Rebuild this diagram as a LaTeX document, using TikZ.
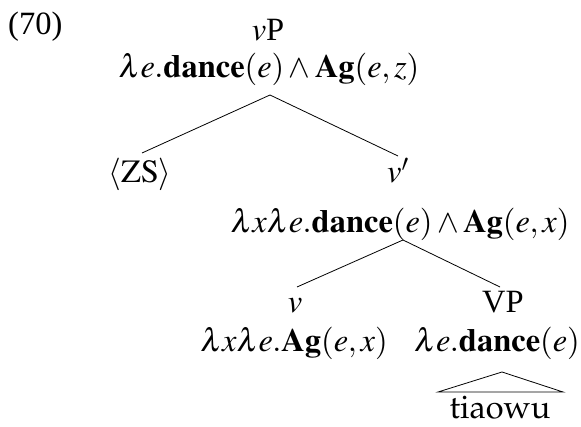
\documentclass[tikz,border=0pt]{standalone}
\usepackage{amsmath,amsbsy}
\usepackage{mathptmx}
\usepackage[T1]{fontenc}
\usepackage[no-math]{fontspec}
\setmainfont{Liberation Serif}
\newcommand{\bl}{\boldsymbol{\lambda}}
\tikzset{
  lab/.style={anchor=base, inner sep=0pt, font=\fontsize{32.5}{38}\selectfont},
  edge/.style={line width=0.8pt},
}
\begin{document}
\begin{tikzpicture}[x=1pt,y=1pt]
\useasboundingbox (0,0) rectangle (581,-427);
\node[lab, anchor=base west] (ex) at (8,-35) {(70)};
\node[lab] (vP) at (268,-41) {$v$P};
\node[lab] (F1) at (269,-78) {$\bl e.\mathbf{dance}(e)\wedge\mathbf{Ag}(e,z)$};
\node[lab] (ZS) at (140,-183) {$\langle\mathrm{ZS}\rangle$};
\node[lab] (vbar) at (398,-183) {$v'$};
\node[lab] (F2) at (400,-233) {$\bl x\bl e.\mathbf{dance}(e)\wedge\mathbf{Ag}(e,x)$};
\node[lab] (v) at (295,-313) {$v$};
\node[lab] (F3) at (294,-352) {$\bl x\bl e.\mathbf{Ag}(e,x)$};
\node[lab] (VP) at (503,-313) {VP};
\node[lab] (F4) at (497,-352) {$\bl e.\mathbf{dance}(e)$};
\node[lab, font=\fontsize{32.5}{38}\fontencoding{T1}\fontfamily{ppl}\selectfont] (tw) at (500,-419) {tiaowu};
\draw[edge] ([shift={(1,-17)}]F1.base) -- ([shift={(2,30)}]ZS.base);
\draw[edge] ([shift={(1,-17)}]F1.base) -- ([shift={(0,27)}]vbar.base);
\draw[edge] ([shift={(3,-7)}]F2.base) -- ([shift={(2,26)}]v.base);
\draw[edge] ([shift={(3,-7)}]F2.base) -- ([shift={(-3,26)}]VP.base);
\draw[edge] ([shift={(5,-20)}]F4.base) -- ([shift={(-62,27)}]tw.base) -- ([shift={(63,27)}]tw.base) -- cycle;
\end{tikzpicture}
\end{document}
